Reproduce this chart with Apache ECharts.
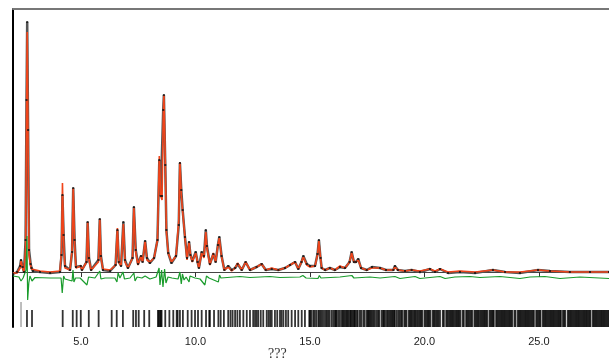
<!DOCTYPE html>
<html>
<head>
<meta charset="utf-8">
<script src="https://cdn.jsdelivr.net/npm/echarts@6/dist/echarts.min.js"></script>
<style>
  html, body { margin: 0; padding: 0; background: #fff; }
  #chart { width: 609px; height: 362px; }
</style>
</head>
<body>
<div id="chart"></div>
<script>
// 2-theta positions shared by observed and calculated profiles
const twoTheta = [2.03, 2.21, 2.34, 2.38, 2.45, 2.51, 2.58, 2.62, 2.65, 2.69, 2.73, 2.80, 2.84, 2.90, 3.21, 3.65,
  4.08, 4.15, 4.19, 4.24, 4.30, 4.52, 4.61, 4.66, 4.72, 4.78, 4.99, 5.04, 5.24, 5.29, 5.35, 5.44, 5.76, 5.82, 5.87, 5.96,
  6.27, 6.51, 6.59, 6.65, 6.75, 6.85, 6.92, 7.05, 7.25, 7.31, 7.39, 7.49, 7.62, 7.69, 7.80, 7.88, 8.01, 8.19, 8.34,
  8.42, 8.48, 8.54, 8.59, 8.62, 8.68, 8.73, 8.81, 8.95, 9.15, 9.27, 9.32, 9.38, 9.44, 9.54, 9.63, 9.72, 9.78, 9.86,
  10.01, 10.09, 10.15, 10.27, 10.37, 10.45, 10.50, 10.63, 10.78, 10.88, 10.98, 11.04, 11.14, 11.26, 11.43, 11.58,
  11.73, 11.84, 12.02, 12.19, 12.38, 12.67, 12.89, 13.07, 13.33, 13.62, 13.91, 14.13, 14.35, 14.49, 14.63, 14.71,
  14.86, 15.00, 15.22, 15.33, 15.39, 15.46, 15.51, 15.66, 15.87, 16.09, 16.31, 16.53, 16.73, 16.82, 16.92, 17.01,
  17.11, 17.23, 17.48, 17.71, 18.06, 18.32, 18.64, 18.71, 18.84, 19.15, 19.44, 19.80, 20.24, 20.46, 20.68, 21.03,
  21.55, 22.21, 22.99, 23.52, 24.17, 24.96, 25.48, 26.35, 27.23, 28.06];

const yObs = [-20, 0, 60, 120, 50, 0, 320, 1720, 2500, 1420, 220, 80, 40, 10, 0, -10,
  0, 170, 770, 370, 60, 20, 200, 840, 320, 50, 60, 20, 100, 500, 140, 20, 120, 530, 160, 20,
  10, 70, 420, 100, 60, 500, 120, 40, 140, 650, 220, 80, 160, 100, 310, 140, 90, 140, 320,
  1120, 760, 760, 1620, 1770, 1070, 420, 190, 90, 160, 470, 1090, 820, 620, 350, 140, 300, 170, 110,
  200, 100, 40, 200, 160, 420, 260, 80, 180, 100, 270, 350, 160, 20, 60, 20,
  40, 80, 20, 100, 20, 50, 80, 20, 30, 20, 40, 70, 100, 30, 100, 160,
  80, 60, 60, 180, 320, 140, 40, 20, 40, 20, 50, 40, 100, 200, 100, 100,
  130, 40, 20, 50, 40, 20, 20, 60, 20, 10, 20, 0, 30, 0, 30, -10,
  0, -10, 20, 0, -10, 20, 10, 0, 0, 0];

const yCalc = [-10, -10, 40, 110, 40, 0, 220, 1520, 2400, 1220, 170, 60, 30, 20, 10, 0,
  10, 220, 890, 320, 40, 20, 220, 840, 270, 40, 60, 20, 100, 500, 120, 20, 100, 530, 140, 30,
  20, 70, 440, 100, 60, 480, 100, 40, 140, 640, 200, 70, 160, 100, 310, 120, 100, 140, 320,
  1160, 760, 720, 1520, 1770, 1120, 400, 190, 100, 160, 520, 1100, 770, 600, 350, 120, 300, 170, 100,
  190, 100, 40, 190, 140, 400, 240, 70, 190, 100, 270, 340, 150, 20, 50, 10,
  40, 90, 20, 100, 20, 50, 80, 20, 40, 20, 40, 70, 100, 30, 100, 150,
  70, 50, 60, 170, 310, 140, 40, 20, 40, 20, 60, 40, 100, 190, 100, 100,
  120, 40, 20, 40, 40, 20, 20, 50, 20, 10, 20, 10, 30, 10, 30, 0,
  10, 0, 20, 0, 0, 20, 10, 0, 0, 0];

// difference curve (obs - calc), drawn with an offset below the profile
const diffTheta = [2.03, 2.29, 2.38, 2.47, 2.53, 2.60, 2.64, 2.67, 2.72, 2.77, 2.86, 2.99, 3.65, 4.13, 4.18, 4.24,
  4.30, 4.61, 4.65, 4.69, 4.76, 4.96, 5.26, 5.33, 5.61, 5.82, 5.87, 6.05, 6.48, 6.57, 6.62, 6.70, 6.83, 6.90, 7.14,
  7.31, 7.36, 7.45, 7.66, 7.80, 8.01, 8.28, 8.41, 8.45, 8.52, 8.58, 8.65, 8.71, 8.80, 8.97, 9.24, 9.32, 9.38, 9.43,
  9.50, 9.59, 9.72, 9.76, 9.98, 10.20, 10.41, 10.48, 10.59, 11.00, 11.05, 11.11, 11.94, 12.38, 12.82, 13.25, 13.69,
  14.56, 14.69, 14.83, 15.35, 15.41, 15.48, 16.31, 16.83, 16.92, 17.62, 18.06, 18.71, 18.93, 19.59, 19.80, 20.68,
  20.90, 21.33, 21.99, 22.42, 23.30, 24.17, 24.61, 25.26, 25.92, 26.79, 28.06];

const yDiff = [-40, -50, -90, -60, -40, 20, 360, -280, -110, -40, -90, -55, -60, -60, -210, -40,
  -70, -90, 20, -100, -60, -60, -130, -50, -60, 10, -70, -60, -60, -100, -10, -60, 0, -70, -60,
  -10, -90, -50, -60, -40, -70, -50, 40, -130, 20, -150, 30, -110, -50, -60, -70, 0, -120, -20,
  -80, -50, -100, -40, -60, -70, -130, -40, -60, -100, -30, -60, -45, -55, -50, -45, -55,
  -50, -35, -60, -65, -35, -60, -50, -35, -60, -50, -60, -45, -65, -45, -65, -45,
  -65, -50, -45, -55, -45, -65, -50, -45, -65, -50, -65];

// reflection markers
const peakTicks = [2.64, 2.86, 4.20, 4.64, 4.81, 4.99, 5.34, 5.77, 6.34, 6.56, 6.83, 7.28, 7.40, 7.52, 7.76, 7.98,
  8.36, 8.40, 8.45, 8.49, 8.52, 8.68, 8.86, 9.03, 9.18, 9.22, 9.32, 9.45, 9.66, 9.83, 9.98, 10.11, 10.27, 10.46,
  10.60, 10.63, 10.81, 11.00, 11.10, 11.24, 11.43, 11.53, 11.62, 11.73, 11.83, 11.94, 12.09, 12.24, 12.38, 12.52,
  12.60, 12.67, 12.74, 12.85, 12.96, 13.11, 13.19, 13.26, 13.33, 13.47, 13.57, 13.69, 13.76, 13.84, 13.95, 14.05,
  14.20, 14.35, 14.49, 14.64, 14.78, 14.97, 15.00, 15.05, 15.14, 15.20, 15.27, 15.36, 15.41, 15.47, 15.53, 15.61,
  15.68, 15.74, 15.80, 15.86, 15.95, 16.02, 16.09, 16.13, 16.17, 16.24, 16.31, 16.39, 16.44, 16.49, 16.55, 16.60,
  16.64, 16.69, 16.75, 16.79, 16.84, 16.90, 16.94, 16.97, 17.04, 17.09, 17.18, 17.24, 17.33, 17.39, 17.48, 17.53,
  17.57, 17.62, 17.67, 17.73, 17.78, 17.84, 17.92, 17.98, 18.03, 18.13, 18.19, 18.23, 18.28, 18.36, 18.41, 18.47,
  18.52, 18.57, 18.62, 18.67, 18.71, 18.79, 18.86, 18.92, 18.98, 19.03, 19.12, 19.17, 19.22, 19.32, 19.37, 19.42,
  19.47, 19.53, 19.58, 19.63, 19.69, 19.74, 19.80, 19.85, 19.90, 20.00, 20.05, 20.11, 20.16, 20.21, 20.26, 20.36,
  20.41, 20.46, 20.52, 20.57, 20.62, 20.68, 20.80, 20.85, 20.95, 21.00, 21.05, 21.11, 21.16, 21.21, 21.26, 21.31,
  21.37, 21.42, 21.47, 21.52, 21.57, 21.67, 21.72, 21.82, 21.87, 21.92, 21.97, 22.03, 22.08, 22.18, 22.23, 22.28,
  22.33, 22.38, 22.44, 22.49, 22.54, 22.59, 22.64, 22.69, 22.74, 22.84, 22.89, 22.94, 22.99, 23.03, 23.13, 23.18,
  23.23, 23.28, 23.33, 23.38, 23.43, 23.48, 23.53, 23.58, 23.63, 23.68, 23.73, 23.78, 23.83, 23.93, 23.98, 24.08,
  24.13, 24.18, 24.23, 24.28, 24.33, 24.38, 24.43, 24.48, 24.53, 24.58, 24.63, 24.68, 24.73, 24.78, 24.88, 24.93,
  24.98, 25.03, 25.07, 25.17, 25.22, 25.27, 25.32, 25.37, 25.42, 25.47, 25.52, 25.57, 25.62, 25.67, 25.72, 25.77,
  25.82, 25.87, 25.92, 25.96, 26.05, 26.10, 26.15, 26.26, 26.31, 26.36, 26.41, 26.46, 26.51, 26.56, 26.61, 26.66,
  26.71, 26.76, 26.81, 26.86, 26.91, 26.96, 27.01, 27.06, 27.11, 27.16, 27.21, 27.25, 27.35, 27.40, 27.45, 27.50,
  27.55, 27.60, 27.65, 27.70, 27.75, 27.80, 27.85, 27.90, 27.95, 28.00, 28.05];
const firstTick = [2.38];

const xLabels = [5, 10, 15, 20, 25];

const chart = echarts.init(document.getElementById("chart"));

const zip = (xs, ys) => xs.map((x, i) => [x, ys[i]]);

chart.setOption({
  animation: false,
  grid: { left: 13, right: 0, top: 9, bottom: 35 },
  xAxis: [
    {
      type: "value",
      min: 2.03,
      max: 28.06,
      axisLine: { lineStyle: { color: "#444", width: 1 } },
      axisTick: { show: true, length: 5, customValues: xLabels, lineStyle: { color: "#333" } },
      axisLabel: {
        customValues: xLabels,
        formatter: (v) => v.toFixed(1),
        color: "#222",
        fontFamily: "Liberation Sans",
        fontSize: 11,
        margin: 9,
      },
      splitLine: { show: false },
    },
    {
      type: "value",
      position: "top",
      min: 2.03,
      max: 28.06,
      axisLine: { show: true, lineStyle: { color: "#777", width: 2 } },
      axisTick: { show: false },
      axisLabel: { show: false },
      splitLine: { show: false },
    },
  ],
  yAxis: {
    type: "value",
    min: -550,
    max: 2630,
    axisLine: { show: true, lineStyle: { color: "#000", width: 2 } },
    axisTick: { show: false },
    axisLabel: { show: false },
    splitLine: { show: false },
  },
  graphic: [
    {
      type: "text",
      left: 268,
      top: 347,
      style: { text: "???", font: '14px "Liberation Serif"', fill: "#333" },
    },
  ],
  series: [
    {
      name: "Observed",
      type: "line",
      data: zip(twoTheta, yObs),
      showSymbol: false,
      lineStyle: { color: "#555", width: 2.5 },
      z: 2,
    },
    {
      name: "Calculated",
      type: "line",
      data: zip(twoTheta, yCalc),
      showSymbol: false,
      lineStyle: { color: "#f0441a", width: 1.6 },
      z: 3,
    },
    {
      name: "Observed points",
      type: "scatter",
      data: zip(twoTheta, yObs),
      symbol: "rect",
      symbolSize: 2,
      itemStyle: { color: "#111" },
      z: 4,
    },
    {
      name: "Difference",
      type: "line",
      data: zip(diffTheta, yDiff),
      showSymbol: false,
      lineStyle: { color: "#1a9c2c", width: 1.2 },
      z: 3,
    },
    {
      name: "Reflections",
      type: "scatter",
      data: peakTicks.map((x) => [x, -465]),
      symbol: "rect",
      symbolSize: [1.8, 17],
      itemStyle: { color: "#000" },
      z: 2,
    },
    {
      name: "First reflection",
      type: "scatter",
      data: firstTick.map((x) => [x, -425]),
      symbol: "rect",
      symbolSize: [1.2, 25],
      itemStyle: { color: "#777" },
      z: 2,
    },
  ],
});
</script>
</body>
</html>
